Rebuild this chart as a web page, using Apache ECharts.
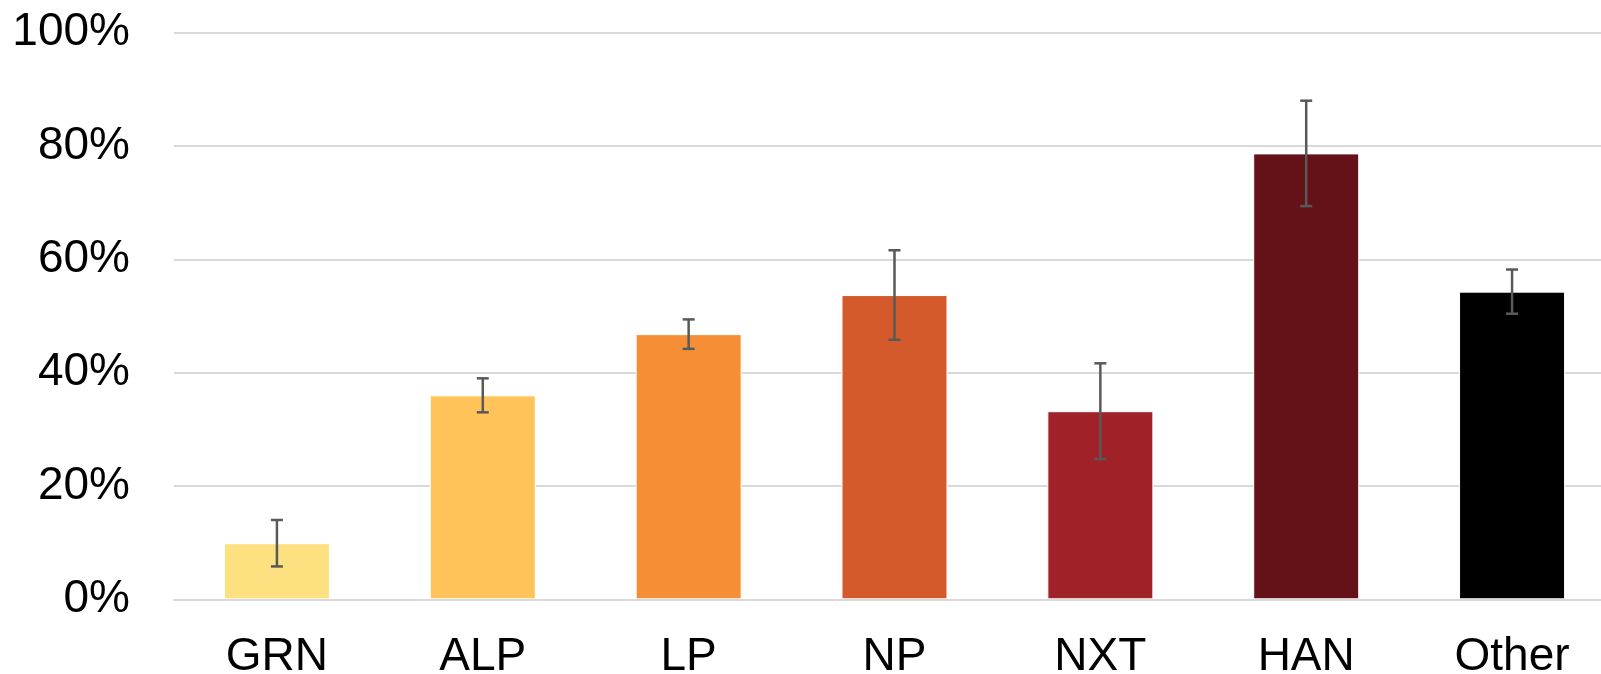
<!DOCTYPE html>
<html>
<head>
<meta charset="utf-8">
<script src="https://cdn.jsdelivr.net/npm/echarts@6/dist/echarts.min.js"></script>
<style>
html,body{margin:0;padding:0;background:#fff;}
#chart{width:1601px;height:674px;}
</style>
</head>
<body>
<div id="chart"></div>
<script>
const categories = ['GRN', 'ALP', 'LP', 'NP', 'NXT', 'HAN', 'Other'];
const values = [9.9, 36.0, 46.8, 53.7, 33.2, 78.7, 54.3];
const errors = [4.1, 3.0, 2.6, 7.9, 8.45, 9.3, 3.9];
const barColors = ['#FDE07F', '#FFC35A', '#F68E35', '#D55A2B', '#A02128', '#641218', '#000000'];
const yTicks = [0, 20, 40, 60, 80, 100];

const chart = echarts.init(document.getElementById('chart'), null, {renderer: 'canvas'});
const font = '"Liberation Sans", Arial, sans-serif';

chart.setOption({
  animation: false,
  backgroundColor: '#ffffff',
  grid: {left: 174, width: 1441, top: 32.7, height: 566.6, containLabel: false, outerBoundsMode: 'none'},
  xAxis: {
    type: 'category',
    data: categories,
    z: 3,
    axisTick: {show: false},
    axisLine: {show: true, lineStyle: {color: '#D9D9D9', width: 2}},
    axisLabel: {color: '#000', fontSize: 46, fontFamily: font, margin: 35}
  },
  yAxis: {
    type: 'value',
    min: yTicks[0],
    max: yTicks[yTicks.length - 1],
    interval: yTicks[1] - yTicks[0],
    axisLine: {show: false},
    axisTick: {show: false},
    splitLine: {show: true, lineStyle: {color: '#D9D9D9', width: 2}},
    axisLabel: {color: '#000', fontSize: 46, fontFamily: font, margin: 44, formatter: v => v + '%'}
  },
  series: [
    {
      type: 'bar',
      barWidth: '51.5%',
      data: values.map((v, i) => ({value: v, itemStyle: {color: barColors[i]}})),
      itemStyle: {borderColor: '#ffffff', borderWidth: 1}
    },
    {
      type: 'custom',
      z: 4,
      data: values.map((v, i) => [i, v, errors[i]]),
      renderItem: function (params, api) {
        const x = api.value(0), v = api.value(1), e = api.value(2);
        const top = api.coord([x, v + e]);
        const bot = api.coord([x, v - e]);
        const hw = 6;
        const style = {stroke: '#595959', lineWidth: 2.5};
        return {
          type: 'group',
          children: [
            {type: 'line', shape: {x1: top[0], y1: top[1], x2: bot[0], y2: bot[1]}, style: style},
            {type: 'line', shape: {x1: top[0] - hw, y1: top[1], x2: top[0] + hw, y2: top[1]}, style: style},
            {type: 'line', shape: {x1: bot[0] - hw, y1: bot[1], x2: bot[0] + hw, y2: bot[1]}, style: style}
          ]
        };
      }
    }
  ]
});
</script>
</body>
</html>
